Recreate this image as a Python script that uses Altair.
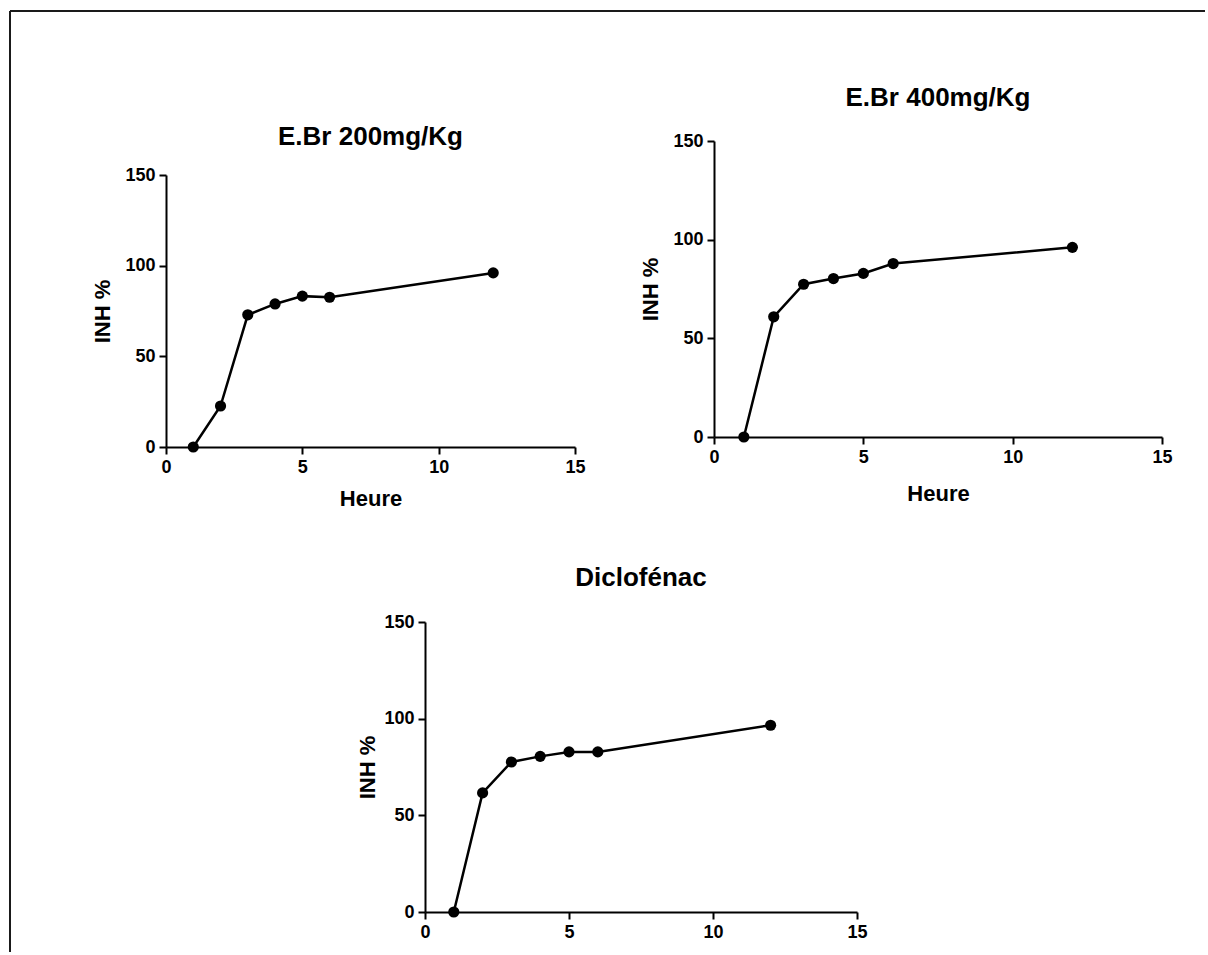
import altair as alt
import pandas as pd

# ---- data ----
hours = [1, 2, 3, 4, 5, 6, 12]
inh_200 = [0, 22.6, 72.9, 78.9, 83.2, 82.6, 96.0]
inh_400 = [0, 60.9, 77.4, 80.3, 82.9, 87.9, 96.1]
inh_diclo = [0, 61.6, 77.6, 80.5, 82.8, 82.8, 96.6]

titles = ["E.Br 200mg/Kg", "E.Br 400mg/Kg", "Diclofénac"]
x_ticks = [0, 5, 10, 15]
y_ticks = [0, 50, 100, 150]
x_label = "Heure"
y_label = "INH %"

FONT = "Liberation Sans"


def panel(values, title, width, height, y_range=None, x_range=None, y_offset=0,
          show_x_title=True, x_title_pad=12, y_title_pad=10, title_dx=0, title_dy=0):
    df = pd.DataFrame({"Heure": hours, "INH": values})
    if y_range is not None:
        yscale = alt.Scale(domain=[0, 150], nice=False, range=y_range)
    else:
        yscale = alt.Scale(domain=[0, 150], nice=False)
    if x_range is not None:
        xscale = alt.Scale(domain=[0, 15], nice=False, range=x_range)
    else:
        xscale = alt.Scale(domain=[0, 15], nice=False)
    x_axis = alt.Axis(values=x_ticks, title=x_label if show_x_title else None,
                      titlePadding=x_title_pad)
    y_axis = alt.Axis(values=y_ticks, title=y_label, titlePadding=y_title_pad,
                      offset=y_offset)
    base = alt.Chart(df).encode(
        x=alt.X("Heure:Q", scale=xscale, axis=x_axis),
        y=alt.Y("INH:Q", scale=yscale, axis=y_axis),
    )
    line = base.mark_line(color="black", strokeWidth=2.5)
    pts = base.mark_circle(color="black", opacity=1, size=125)
    return alt.layer(line, pts).properties(
        width=width,
        height=height,
        title=alt.TitleParams(text=title, fontSize=26, font=FONT, fontWeight="bold",
                              color="black", anchor="middle", frame="group", offset=6,
                              dx=title_dx, dy=title_dy),
    )


p1 = panel(inh_200, titles[0], 409, 306, y_range=[306, 34], title_dy=15)
p2 = panel(inh_400, titles[1], 448, 296, x_title_pad=17, title_dy=-15)
p3 = panel(inh_diclo, titles[2], 448, 290, x_range=[-289, 143], y_offset=289,
           show_x_title=False, y_title_pad=4, title_dx=-297, title_dy=-16)

# frame around the figure (decoration drawn from the empty spacer cell)
frame_df = pd.DataFrame({"k": [0]})
vline = alt.Chart(frame_df).mark_rule(color="#1a1a1a", strokeWidth=2).encode(
    x=alt.value(-156), y=alt.value(-611), y2=alt.value(330))
hline = alt.Chart(frame_df).mark_rule(color="#1a1a1a", strokeWidth=2).encode(
    x=alt.value(-156), x2=alt.value(1039), y=alt.value(-611))
spacer = alt.layer(vline, hline).properties(width=120, height=10)

chart = alt.concat(
    p1, p2, spacer, p3,
    columns=2,
    spacing={"row": 175, "column": 139},
    align="each",
    bounds="flush",
).properties(
    padding={"left": 9, "top": 10, "right": 0, "bottom": 0},
    background="white",
).configure_view(
    stroke="transparent", strokeWidth=0
).configure_axis(
    grid=False,
    domainColor="black", domainWidth=2,
    tickColor="black", tickWidth=2, tickSize=7,
    labelFont=FONT, labelFontSize=18, labelFontWeight="bold", labelColor="black",
    labelPadding=4, labelFlush=False,
    titleFont=FONT, titleFontSize=22, titleFontWeight="bold", titleColor="black",
)

chart.save("out.html", embed_options={"renderer": "svg", "actions": False})
